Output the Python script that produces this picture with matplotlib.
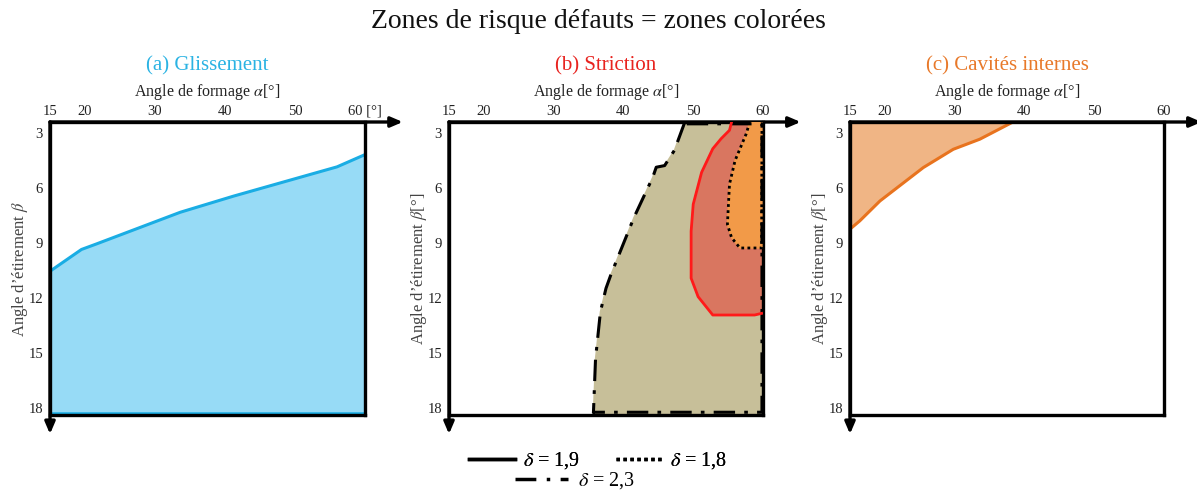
import matplotlib
matplotlib.use("Agg")
import matplotlib.pyplot as plt
from matplotlib.lines import Line2D

plt.rcParams['font.family'] = ['Liberation Serif', 'DejaVu Serif']
plt.rcParams['mathtext.fontset'] = 'stix'

# ---- data ----
x_ticks = [15, 20, 30, 40, 50, 60]
y_ticks = [3, 6, 9, 12, 15, 18]
alpha_min, alpha_max = 15, 60
beta_top, beta_bottom = 2.4, 18.4

# (a) Glissement boundary
glis_alpha = [15, 19.5, 21.7, 33.6, 41.2, 56.0, 60]
glis_beta = [10.55, 9.36, 9.05, 7.33, 6.45, 4.85, 4.18]

# (b) Striction, delta = 2.3 (dash-dot boundary)
s23_alpha = [48.8, 47.3, 45.9, 44.7, 44.2, 41.5, 38.2, 37.5, 36.7, 36.0, 35.7, 35.7]
s23_beta = [2.4, 3.95, 4.78, 4.87, 5.42, 7.62, 10.74, 11.48, 12.76, 15.33, 18.27, 18.4]
# delta = 1.9 (solid red)
s19_alpha = [55.5, 55.2, 54.0, 52.8, 51.2, 50.0, 49.7, 49.7, 50.7, 52.8, 58.8, 59.8]
s19_beta = [2.4, 2.85, 3.31, 3.86, 5.15, 6.89, 8.36, 10.93, 11.94, 12.94, 12.94, 12.85]
# delta = 1.8 (dotted)
s18_alpha = [58.1, 57.6, 56.0, 55.2, 54.9, 55.5, 56.7, 59.8]
s18_beta = [2.4, 3.04, 4.50, 5.79, 7.99, 8.72, 9.28, 9.28]

# (c) Cavites internes boundary
cav_alpha = [15, 16.4, 19.3, 25.5, 29.8, 33.6, 38.1]
cav_beta = [8.25, 7.80, 6.71, 4.89, 3.89, 3.34, 2.45]

titles = ["(a) Glissement", "(b) Striction", "(c) Cavités internes"]
title_colors = ["#2BB3E3", "#E8231F", "#E8792A"]
ylabels = ["Angle d\u2019étirement $\\beta$", "Angle d\u2019étirement $\\beta$[°]", "Angle d\u2019étirement $\\beta$[°]"]
legend_labels = ["$\\delta$ = 1,9", "$\\delta$ = 1,8", "$\\delta$ = 2,3"]

W, H = 1197, 492
fig = plt.figure(figsize=(W / 100, H / 100), dpi=100)

boxes = [(50, 122, 365, 415), (449, 122, 763, 415), (850, 122, 1164, 415)]
axes = []
for (l, t, r, b) in boxes:
    ax = fig.add_axes([l / W, 1 - b / H, (r - l) / W, (b - t) / H])
    axes.append(ax)

dashdot = (0, (7, 3, 1.2, 3))

for i, ax in enumerate(axes):
    ax.set_xlim(alpha_min, alpha_max)
    ax.set_ylim(beta_bottom, beta_top)
    ax.xaxis.tick_top()
    ax.xaxis.set_label_position('top')
    ax.set_xticks(x_ticks)
    lbls = [str(v) for v in x_ticks]
    if i == 0:
        lbls[-1] = "60 [°]"
    ax.set_xticklabels(lbls)
    ax.set_yticks(y_ticks)
    ax.tick_params(length=0, labelsize=10.5, colors="#222222", pad=3)
    ax.tick_params(axis='y', pad=5)
    for sp in ax.spines.values():
        sp.set_linewidth(2.4)
        sp.set_color("black")
    ax.set_xlabel("Angle de formage $\\alpha$[°]", fontsize=11.5, color="#222222", labelpad=6)
    ax.set_ylabel(ylabels[i], fontsize=12, color="#444444", labelpad=-1)
    ax.set_title(titles[i], fontsize=15, color=title_colors[i], pad=9)
    # arrows
    ax.annotate('', xy=(1.12, 1), xytext=(0, 1), xycoords='axes fraction',
                arrowprops=dict(arrowstyle='-|>,head_length=0.7,head_width=0.3', lw=2.4, color='black',
                                shrinkA=0, shrinkB=0), annotation_clip=False)
    ax.annotate('', xy=(0, -0.065), xytext=(0, 1), xycoords='axes fraction',
                arrowprops=dict(arrowstyle='-|>,head_length=0.7,head_width=0.3', lw=2.4, color='black',
                                shrinkA=0, shrinkB=0), annotation_clip=False)

# (a)
ax = axes[0]
px = glis_alpha + [alpha_max, alpha_min]
py = glis_beta + [beta_bottom - 0.05, beta_bottom - 0.05]
ax.fill(px, py, color="#97DBF6", zorder=1)
ax.plot(glis_alpha, glis_beta, color="#1AADE4", lw=2.2, zorder=2)
ax.plot([alpha_min + 0.05, alpha_min + 0.05, alpha_max - 0.05, alpha_max - 0.05],
        [glis_beta[0], beta_bottom - 0.12, beta_bottom - 0.12, glis_beta[-1]], color="#1AADE4", lw=1.8, zorder=2)

# (b)
ax = axes[1]
right = alpha_max - 0.15
ax.fill(s23_alpha + [right, right], s23_beta + [beta_bottom, beta_top], color="#C7BF99", zorder=1)
ax.fill(s19_alpha + [right, right], s19_beta + [s19_beta[-1], beta_top], color="#D97660", zorder=2)
ax.fill(s18_alpha + [right, right], s18_beta + [s18_beta[-1], beta_top], color="#F29A48", zorder=3)
ax.plot(s23_alpha + [right, right, s23_alpha[0]], s23_beta[:-1] + [beta_bottom - 0.15, beta_bottom - 0.15, beta_top + 0.1, beta_top + 0.1],
        color="black", lw=2.2, ls=dashdot, zorder=4)
ax.plot(s19_alpha, s19_beta, color="#FF1A1A", lw=2.0, zorder=4)
ax.plot(s18_alpha + [right], s18_beta + [beta_top], color="black", lw=2.0, ls=(0, (1, 1.2)), zorder=4)

# (c)
ax = axes[2]
ax.fill(cav_alpha + [alpha_min], cav_beta + [beta_top], color="#F0B585", zorder=1)
ax.plot(cav_alpha, cav_beta, color="#E8731E", lw=2.2, zorder=2)

fig.text(0.5, 1 - 22 / H, "Zones de risque défauts = zones colorées", ha='center', va='center',
         fontsize=20, color="#111111")

# legend under panel b
h1 = Line2D([], [], color='black', lw=2.5, ls='-')
h2 = Line2D([], [], color='black', lw=2.5, ls=(0, (1, 1)))
h3 = Line2D([], [], color='black', lw=2.5, ls=(0, (6, 3, 1, 3)))
leg1 = fig.legend([h1, h2], legend_labels[:2], loc='center', bbox_to_anchor=(598 / W, 1 - 461 / H),
                  ncol=2, frameon=False, fontsize=14.5, handlelength=2.3, handletextpad=0.4,
                  columnspacing=1.8, borderpad=0, borderaxespad=0)
leg2 = fig.legend([h3], legend_labels[2:], loc='center', bbox_to_anchor=(575 / W, 1 - 481 / H),
                  frameon=False, fontsize=14.5, handlelength=2.6, handletextpad=0.5,
                  borderpad=0, borderaxespad=0)
fig.add_artist(leg1)

fig.savefig("out.png", dpi=100)
